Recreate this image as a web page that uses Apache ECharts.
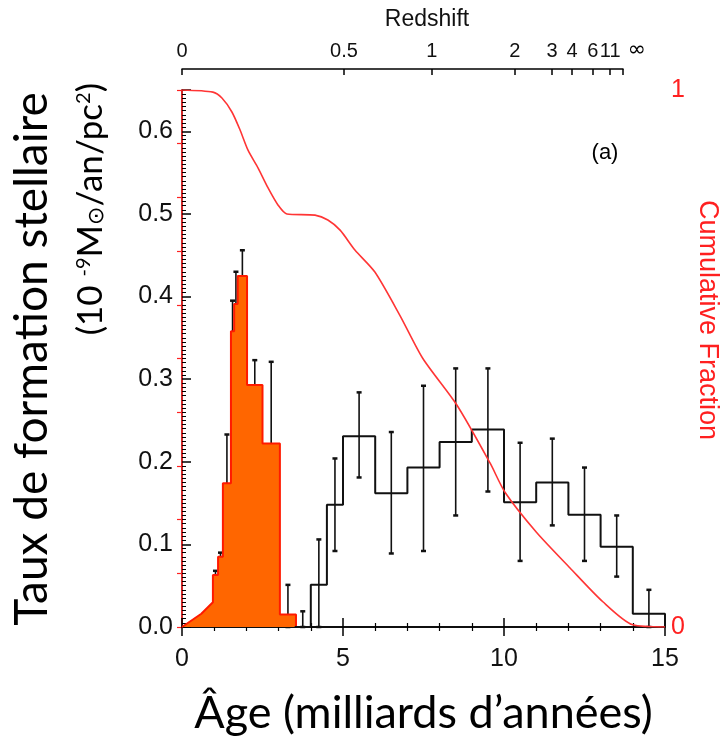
<!DOCTYPE html>
<html>
<head>
<meta charset="utf-8">
<script src="https://cdn.jsdelivr.net/npm/echarts@6/dist/echarts.min.js"></script>
<style>
  html, body { margin: 0; padding: 0; background: #fff; }
  #chart { width: 723px; height: 737px; }
</style>
</head>
<body>
<div id="chart"></div>
<script>
// jeune population (histogramme orange)
const rampAges = [0, 0.6, 0.96];
const rampRates = [0, 0.016, 0.03];
const youngEdges = [0.96, 1.12, 1.27, 1.52, 1.62, 1.73, 2.02, 2.5, 3.04, 3.54];
const youngRates = [0.063, 0.085, 0.174, 0.358, 0.391, 0.425, 0.293, 0.222, 0.015];
const youngErrHigh = [0.068, 0.09, 0.233, 0.395, 0.430, 0.456, 0.323, 0.321, 0.051];

// vieille population (histogramme noir)
const oldEdges = [3.5, 4, 4.5, 5, 6, 7, 8, 9, 10, 11, 12, 13, 14, 15];
const oldRates = [0, 0.051, 0.148, 0.231, 0.162, 0.193, 0.224, 0.239, 0.151, 0.175, 0.136, 0.097, 0.016];
const oldErrLow = [0, 0, 0.092, 0.181, 0.089, 0.092, 0.135, 0.164, 0.080, 0.123, 0.080, 0.061, 0];
const oldErrHigh = [0.019, 0.106, 0.204, 0.284, 0.236, 0.292, 0.313, 0.313, 0.223, 0.228, 0.193, 0.135, 0.045];

// fraction cumulée
const cumAges = [0, 0.96, 1.24, 1.55, 1.8, 2.05, 2.36, 2.67, 2.98, 3.26, 4.13, 4.53, 4.91, 5.37, 5.99, 6.77, 7.48, 8.54, 9.57, 10.03, 11.0, 12.05, 13.07, 14.0, 15.0];
const cumFraction = [1, 0.996, 0.985, 0.959, 0.926, 0.888, 0.855, 0.818, 0.786, 0.769, 0.767, 0.758, 0.739, 0.702, 0.661, 0.58, 0.5, 0.413, 0.305, 0.251, 0.177, 0.11, 0.047, 0.004, 0];

// axe du redshift (âge correspondant)
const redshiftLabels = ['0', '0.5', '1', '2', '3', '4', '6', '11', '∞'];
const redshiftAges = [0, 5.03, 7.76, 10.34, 11.5, 12.12, 12.76, 13.3, 13.7];

const ageTicks = [0, 5, 10, 15];

function steps(edges, vals) {
  const pts = [];
  vals.forEach((v, i) => {
    pts.push([edges[i], v]);
    pts.push([edges[i + 1], v]);
  });
  return pts;
}

const youngLine = rampAges.map((a, i) => [a, rampRates[i]])
  .concat(steps(youngEdges, youngRates))
  .concat([[youngEdges[youngEdges.length - 1], 0]]);

const oldLine = [[oldEdges[0], 0]].concat(steps(oldEdges, oldRates)).concat([[15, 0]]);

const errData = [];
youngRates.forEach((v, i) => {
  const c = (youngEdges[i] + youngEdges[i + 1]) / 2;
  errData.push([c, Math.max(0, 2 * v - youngErrHigh[i]), youngErrHigh[i]]);
});
oldRates.forEach((v, i) => {
  const c = (oldEdges[i] + oldEdges[i + 1]) / 2;
  errData.push([c, oldErrLow[i], oldErrHigh[i]]);
});

const tickFont = "'Liberation Sans'";
const chart = echarts.init(document.getElementById('chart'));

chart.setOption({
  animation: false,
  grid: [
    { left: 182, right: 58, top: 90, bottom: 110, outerBoundsMode: 'none', containLabel: false },
    { left: 182, right: 100, top: 69, height: 0, outerBoundsMode: 'none', containLabel: false }
  ],
  xAxis: [
    {
      type: 'value', gridIndex: 0, position: 'bottom', min: 0, max: 15, interval: 5,
      name: 'Âge (milliards d’années)', nameLocation: 'middle', nameGap: 64,
      nameTextStyle: { fontFamily: 'Lato', fontSize: 45, color: '#000' },
      axisLine: { lineStyle: { color: '#000', width: 1.5 } },
      axisTick: { inside: true, length: 9, lineStyle: { color: '#000', width: 1.5 } },
      minorTick: { show: true, splitNumber: 5, length: 4, lineStyle: { color: '#000', width: 1.2 } },
      axisLabel: { fontFamily: tickFont, fontSize: 25, color: '#111', margin: 20, customValues: ageTicks },
      splitLine: { show: false }
    },
    {
      type: 'value', gridIndex: 0, position: 'top', min: 0, max: 15, interval: 5,
      axisLine: { lineStyle: { color: '#000', width: 1.5 } },
      axisTick: { inside: true, length: 9, lineStyle: { color: '#000', width: 1.5 } },
      minorTick: { show: true, splitNumber: 5, length: 4, lineStyle: { color: '#000', width: 1.2 } },
      axisLabel: { show: false },
      splitLine: { show: false }
    },
    {
      type: 'value', gridIndex: 1, position: 'top', min: 0, max: 13.7,
      axisLine: { lineStyle: { color: '#000', width: 1.5 } },
      axisTick: { inside: true, length: 6, customValues: redshiftAges, lineStyle: { color: '#000', width: 1.5 } },
      axisLabel: {
        customValues: redshiftAges, fontFamily: tickFont, fontSize: 20, color: '#111', margin: 8,
        formatter: (v) => {
          let best = 0;
          redshiftAges.forEach((a, i) => { if (Math.abs(a - v) < Math.abs(redshiftAges[best] - v)) best = i; });
          const lab = redshiftLabels[best];
          return lab === '∞' ? '{inf|∞}' : lab;
        },
        rich: { inf: { fontFamily: 'DejaVu Sans', fontSize: 22, color: '#000', padding: [0, 0, 0, 28] } }
      },
      splitLine: { show: false }
    }
  ],
  yAxis: [
    {
      type: 'value', gridIndex: 0, position: 'left', min: 0, max: 0.65, interval: 0.1,
      axisLine: { show: true, lineStyle: { color: '#000', width: 1.5 } },
      axisTick: { show: true, inside: true, length: 9, lineStyle: { color: '#000', width: 1.5 } },
      minorTick: { show: true, splitNumber: 20, length: 4, lineStyle: { color: '#000', width: 1 } },
      axisLabel: {
        fontFamily: tickFont, fontSize: 25, color: '#111', margin: 9,
        formatter: (v) => (Math.abs(v * 10 - Math.round(v * 10)) < 1e-6 ? v.toFixed(1) : '')
      },
      splitLine: { show: false }
    },
    {
      type: 'value', gridIndex: 0, position: 'right', min: 0, max: 1, interval: 0.1,
      axisLine: { show: true, lineStyle: { color: '#ff2020', width: 1.5 } },
      axisTick: { show: true, inside: true, length: 5, lineStyle: { color: '#ff2020', width: 1.2 } },
      axisLabel: {
        fontFamily: tickFont, fontSize: 25, color: '#ff2020', margin: 6,
        formatter: (v) => (v === 0 || v === 1 ? String(v) : '')
      },
      splitLine: { show: false }
    },
    { type: 'value', gridIndex: 1, show: false }
  ],
  series: [
    {
      name: 'erreurs', type: 'custom', xAxisIndex: 0, yAxisIndex: 0, z: 2,
      data: errData,
      renderItem: (params, api) => {
        const lo = api.coord([api.value(0), api.value(1)]);
        const hi = api.coord([api.value(0), api.value(2)]);
        const cap = 2.5;
        const st = { stroke: '#111', lineWidth: 1.6 };
        return {
          type: 'group',
          children: [
            { type: 'line', shape: { x1: lo[0], y1: lo[1], x2: hi[0], y2: hi[1] }, style: st },
            { type: 'line', shape: { x1: hi[0] - cap, y1: hi[1], x2: hi[0] + cap, y2: hi[1] }, style: { stroke: '#111', lineWidth: 2.5 } },
            { type: 'line', shape: { x1: lo[0] - cap, y1: lo[1], x2: lo[0] + cap, y2: lo[1] }, style: { stroke: '#111', lineWidth: 2.5 } }
          ]
        };
      }
    },
    {
      name: 'jeune', type: 'line', xAxisIndex: 0, yAxisIndex: 0, z: 3,
      data: youngLine, showSymbol: false,
      lineStyle: { color: '#ff1a00', width: 2 },
      areaStyle: { color: '#ff6600', opacity: 1 }
    },
    {
      name: 'vieille', type: 'line', xAxisIndex: 0, yAxisIndex: 0, z: 4,
      data: oldLine, showSymbol: false,
      lineStyle: { color: '#111', width: 2 }
    },
    {
      name: 'cumul', type: 'line', xAxisIndex: 0, yAxisIndex: 1, z: 5,
      data: cumAges.map((a, i) => [a, cumFraction[i]]),
      showSymbol: false, smooth: 0.25,
      lineStyle: { color: '#ff3535', width: 1.6 }
    }
  ],
  graphic: [
    {
      type: 'text', x: 427, y: 20,
      style: { text: 'Redshift', font: "23px 'Liberation Sans'", fill: '#111', textAlign: 'center', textVerticalAlign: 'middle' }
    },
    {
      type: 'text', x: 605, y: 153,
      style: { text: '(a)', font: "22px 'Liberation Sans'", fill: '#000', textAlign: 'center', textVerticalAlign: 'middle' }
    },
    {
      type: 'text', x: 707, y: 320, rotation: -Math.PI / 2,
      style: { text: 'Cumulative Fraction', font: "27px 'Liberation Sans'", fill: '#ff2020', textAlign: 'center', textVerticalAlign: 'middle' }
    },
    {
      type: 'text', x: 32, y: 359, rotation: Math.PI / 2,
      style: { text: 'Taux de formation stellaire', font: '46px Lato', fill: '#000', textAlign: 'center', textVerticalAlign: 'middle' }
    },
    {
      type: 'text', x: 91, y: 83, rotation: Math.PI / 2,
      style: {
        text: '(10 {sup|-9}M{sun|⊙}/an/pc{sup|2})',
        font: '35px Lato', fill: '#000', textAlign: 'right', textVerticalAlign: 'middle',
        rich: {
          sup: { fontFamily: 'Lato', fontSize: 20, verticalAlign: 'top', fill: '#000' },
          sun: { fontFamily: 'DejaVu Sans', fontSize: 22, verticalAlign: 'bottom', fill: '#000' }
        }
      }
    }
  ]
});
</script>
</body>
</html>
